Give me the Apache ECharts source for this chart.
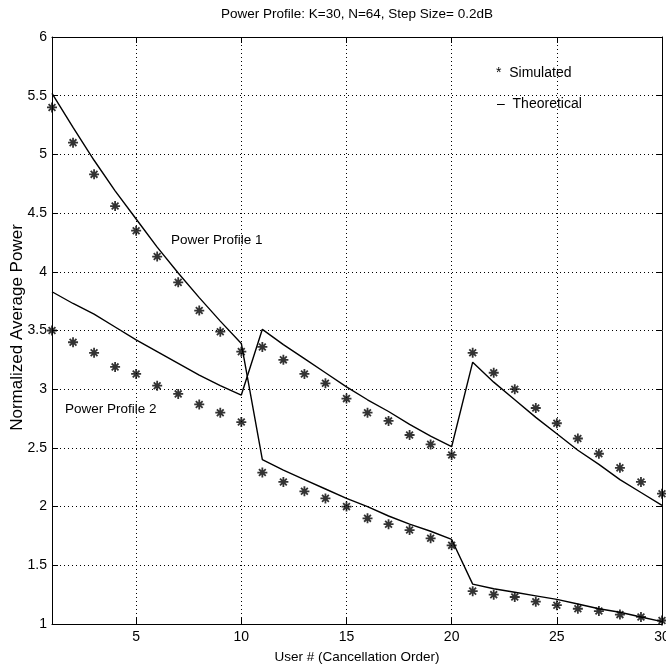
<!DOCTYPE html>
<html>
<head>
<meta charset="utf-8">
<script src="https://cdn.jsdelivr.net/npm/echarts@6/dist/echarts.min.js"></script>
<style>html,body{margin:0;padding:0;background:#fff;}#c{width:666px;height:664px;}</style>
</head>
<body>
<div id="c"></div>
<script>
var users = [1,2,3,4,5,6,7,8,9,10,11,12,13,14,15,16,17,18,19,20,21,22,23,24,25,26,27,28,29,30];
var theory1 = [5.52,5.23,4.95,4.69,4.45,4.21,3.99,3.78,3.58,3.39, 2.40,2.31,2.23,2.15,2.07,2.00,1.92,1.85,1.79,1.72, 1.34,1.30,1.27,1.24,1.21,1.17,1.13,1.10,1.06,1.02];
var theory2 = [3.83,3.73,3.64,3.53,3.42,3.32,3.22,3.12,3.03,2.95, 3.51,3.38,3.26,3.14,3.02,2.91,2.81,2.70,2.60,2.51, 3.23,3.06,2.91,2.76,2.62,2.48,2.36,2.23,2.12,2.01];
var sim1 = [5.40,5.10,4.83,4.56,4.35,4.13,3.91,3.67,3.49,3.32, 2.29,2.21,2.13,2.07,2.00,1.90,1.85,1.80,1.73,1.67, 1.28,1.25,1.23,1.19,1.16,1.13,1.11,1.08,1.06,1.03];
var sim2 = [3.50,3.40,3.31,3.19,3.13,3.03,2.96,2.87,2.80,2.72, 3.36,3.25,3.13,3.05,2.92,2.80,2.73,2.61,2.53,2.44, 3.31,3.14,3.00,2.84,2.71,2.58,2.45,2.33,2.21,2.11];

function pairs(arr){ return users.map(function(u,i){ return [u, arr[i]]; }); }

var FONT = 'Liberation Sans, Arial, Helvetica, sans-serif';
var star = 'path://M5 0L5 10M0 5L10 5M1.6 1.6L8.4 8.4M8.4 1.6L1.6 8.4';
var dotted = {color:'#000', width:1, type:[1,3]};

var chart = echarts.init(document.getElementById('c'), null, {renderer:'canvas'});
var baseX = {
  type:'value', min:1, max:30,
  axisLine:{show:true, lineStyle:{color:'#000', width:1}},
  axisTick:{show:true, inside:true, length:6, lineStyle:{color:'#000'}},
  splitLine:{show:false}
};
var baseY = {
  type:'value', min:1, max:6, interval:0.5,
  axisLine:{show:true, lineStyle:{color:'#000', width:1}},
  axisTick:{show:true, inside:true, length:6, lineStyle:{color:'#000'}},
  splitLine:{show:false}
};
chart.setOption({
  animation:false,
  backgroundColor:'#fff',
  grid:{left:52, right:4, top:37, bottom:40, containLabel:false, outerBoundsMode:'none'},
  xAxis:[
    Object.assign({}, baseX, {
      position:'bottom',
      name:'User # (Cancellation Order)', nameLocation:'middle', nameGap:26,
      nameTextStyle:{color:'#000', fontSize:13.5, fontFamily:FONT},
      axisLabel:{color:'#000', fontSize:14, fontFamily:FONT, margin:6,
        formatter:function(v){ return v===1 ? '' : String(v); }},
      splitLine:{show:true, lineStyle:dotted}
    }),
    Object.assign({}, baseX, {position:'top', axisLabel:{show:false}})
  ],
  yAxis:[
    Object.assign({}, baseY, {
      position:'left',
      name:'Normalized Average Power', nameLocation:'middle', nameGap:26, nameMoveOverlap:false,
      nameTextStyle:{color:'#000', fontSize:17, fontFamily:FONT, padding:[0,0,0,6]},
      axisLabel:{color:'#000', fontSize:14, fontFamily:FONT, margin:5,
        formatter:function(v){ return String(v); }},
      splitLine:{show:true, lineStyle:dotted}
    }),
    Object.assign({}, baseY, {position:'right', axisLabel:{show:false}})
  ],
  series:[
    {type:'line', name:'Theoretical 1', data:pairs(theory1), symbol:'none',
      lineStyle:{color:'#000', width:1.4}, z:3},
    {type:'line', name:'Theoretical 2', data:pairs(theory2), symbol:'none',
      lineStyle:{color:'#000', width:1.4}, z:3},
    {type:'scatter', name:'Simulated 1', data:pairs(sim1), symbol:star, symbolSize:10,
      itemStyle:{color:'#000', borderColor:'#000', borderWidth:1.8}, z:4},
    {type:'scatter', name:'Simulated 2', data:pairs(sim2), symbol:star, symbolSize:10,
      itemStyle:{color:'#000', borderColor:'#000', borderWidth:1.8}, z:4}
  ],
  graphic:[
    {type:'text', x:357, y:14, style:{text:'Power Profile: K=30, N=64, Step Size= 0.2dB', fill:'#000', font:'13.5px '+FONT, textAlign:'center', textVerticalAlign:'middle'}},
    {type:'text', x:496, y:73, style:{text:'*  Simulated', fill:'#000', font:'14px '+FONT, textVerticalAlign:'middle'}},
    {type:'text', x:497, y:104, style:{text:'–  Theoretical', fill:'#000', font:'14px '+FONT, textVerticalAlign:'middle'}},
    {type:'text', x:171, y:240, style:{text:'Power Profile 1', fill:'#000', font:'13.5px '+FONT, textVerticalAlign:'middle'}},
    {type:'text', x:65, y:409, style:{text:'Power Profile 2', fill:'#000', font:'13.5px '+FONT, textVerticalAlign:'middle'}}
  ]
});
</script>
</body>
</html>
